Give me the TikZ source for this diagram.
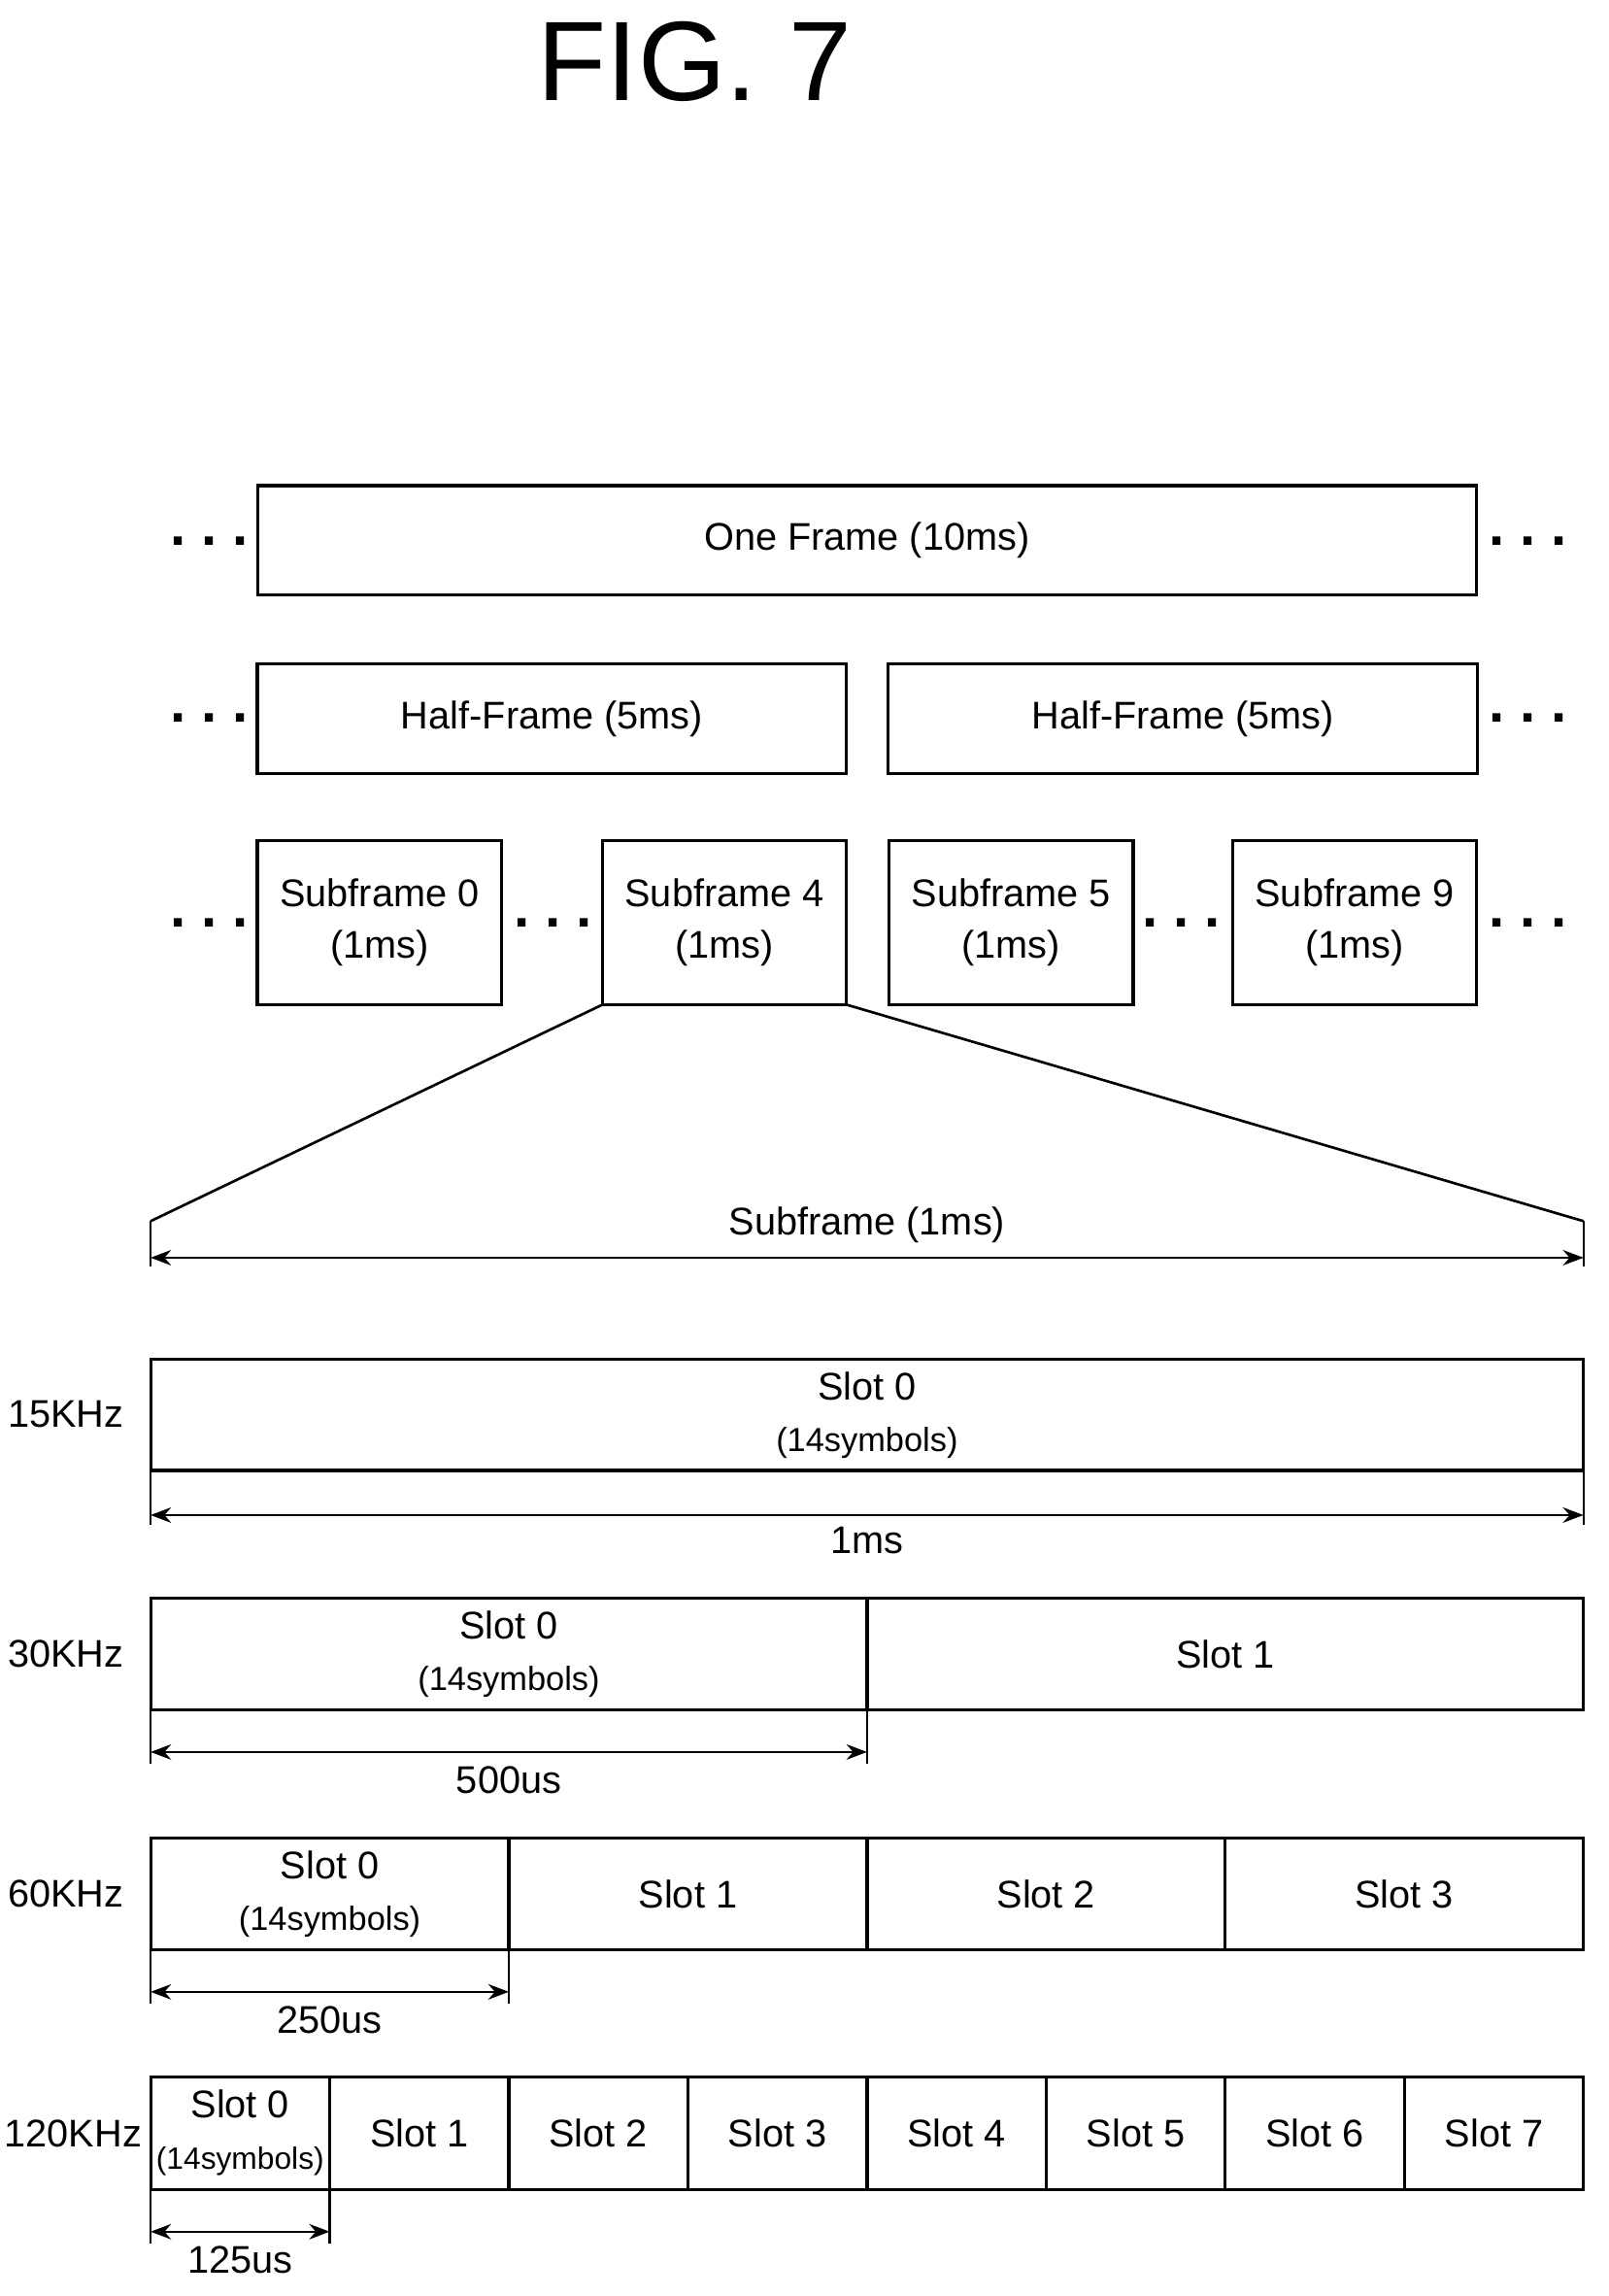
\documentclass[tikz,border=0pt]{standalone}
\usepackage{fontspec}
\setmainfont{Liberation Sans}
\usetikzlibrary{positioning}
\usetikzlibrary{arrows.meta}
\tikzset{
box/.style 2 args={draw, line width=1.2pt, inner sep=0pt, outer sep=0pt, minimum width=#1, minimum height=#2, align=center, font=\fontsize{15}{20}\selectfont},
dots/.style={font=\fontsize{22}{22}\selectfont\bfseries},
dim/.style={{Stealth[length=8pt]}-{Stealth[length=8pt]}, line width=0.8pt},
tick/.style={line width=0.8pt},
lab/.style={font=\fontsize{15}{19}\selectfont},
}
\newcommand{\symb}{{\fontsize{13}{19}\selectfont(14symbols)}}
\newcommand{\tdots}{.\hspace{6pt}.\hspace{6pt}.}
\begin{document}
\begin{tikzpicture}[x=0.02cm, y=-0.02cm]
\useasboundingbox (0,0) rectangle (1100,1570);
\node[font=\fontsize{44}{50}\selectfont] (fig) at (475,42) {FIG. 7};

% frame levels
\node[box={16.68cm}{1.5cm}] (frame) at (593,369.5) {One Frame (10ms)};
\node[box={8.06cm}{1.5cm}] (half0) at (377.5,491.5) {Half-Frame (5ms)};
\node[box={8.06cm}{1.5cm}] (half1) at (809,491.5) {Half-Frame (5ms)};
\node[box={3.34cm}{2.24cm}] (sf0) at (259.5,631) {Subframe 0\\(1ms)};
\node[box={3.34cm}{2.24cm}] (sf4) at (495.5,631) {Subframe 4\\(1ms)};
\node[box={3.34cm}{2.24cm}] (sf5) at (691.5,631) {Subframe 5\\(1ms)};
\node[box={3.34cm}{2.24cm}] (sf9) at (926.5,631) {Subframe 9\\(1ms)};
\foreach \x/\y [count=\i] in {143/370,1045/370,143/491,1045/491,143/631,378/631,808/631,1045/631}
  \node[dots] (dot\i) at (\x,\y) {\tdots};

% zoom
\coordinate (zl) at (103,835);
\coordinate (zr) at (1083,835);
\draw[line width=1pt] (sf4.south west) -- (zl);
\draw[line width=1pt] (sf4.south east) -- (zr);
\coordinate (zlb) at (103,866);
\coordinate (zrb) at (1083,866);
\draw[tick] (zl) -- (zlb);
\draw[tick] (zr) -- (zrb);
\draw[dim] (103,860) -- node[lab, above=2pt] (sflab) {Subframe (1ms)} (1083,860);

% 15KHz
\node[lab] (k15) at (45,967) {15KHz};
\node[box={19.6cm}{1.52cm}] (s15) at (593,967.5) {Slot 0\\\symb};
\draw[tick] (s15.south west) -- ++(0,37);
\draw[tick] (s15.south east) -- ++(0,37);
\draw[dim] (103,1036) -- (1083,1036);
\node[lab] (d15) at (593,1053) {1ms};

% 30KHz
\node[lab] (k30) at (45,1131) {30KHz};
\foreach \i in {0,1}
  \node[box={9.8cm}{1.52cm}] (s30-\i) at (348+490*\i,1131) {Slot \i\ifnum\i=0\\\symb\fi};
\draw[tick] (s30-0.south west) -- ++(0,37);
\draw[tick] (s30-0.south east) -- ++(0,37);
\draw[dim] (103,1198) -- (593,1198);
\node[lab] (d30) at (348,1217) {500us};

% 60KHz
\node[lab] (k60) at (45,1295) {60KHz};
\foreach \i in {0,...,3}
  \node[box={4.9cm}{1.52cm}] (s60-\i) at (225.5+245*\i,1295) {Slot \i\ifnum\i=0\\\symb\fi};
\draw[tick] (s60-0.south west) -- ++(0,37);
\draw[tick] (s60-0.south east) -- ++(0,37);
\draw[dim] (103,1362) -- (348,1362);
\node[lab] (d60) at (225.5,1381) {250us};

% 120KHz
\node[lab] (k120) at (50,1459) {120KHz};
\foreach \i in {0,...,7}
  \node[box={2.45cm}{1.54cm}] (s120-\i) at (164.25+122.5*\i,1458.5) {Slot \i\ifnum\i=0\\{\fontsize{12}{19}\selectfont(14symbols)}\fi};
\draw[tick] (s120-0.south west) -- ++(0,37);
\draw[tick] (s120-0.south east) -- ++(0,37);
\draw[dim] (103,1526) -- (225.5,1526);
\node[lab] (d120) at (164.25,1545) {125us};
\end{tikzpicture}
\end{document}
